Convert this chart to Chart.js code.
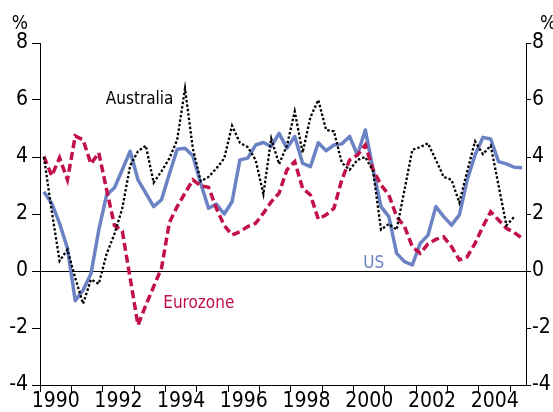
<!DOCTYPE html>
<html>
<head>
<meta charset="utf-8">
<script src="https://cdn.jsdelivr.net/npm/chart.js@4.4.1/dist/chart.umd.min.js"></script>
<style>
    html, body { margin: 0; padding: 0; background: #ffffff; }
    #wrap { width: 553px; height: 412px; }
</style>
</head>
<body>
<div id="wrap"><canvas id="chart" width="553" height="412"></canvas></div>
<script>
// Quarterly year-ended growth, 1990 Q1 to 2005 Q2
const startYear = 1990;
const quarterCount = 62;

const usValues = [
    2.78, 2.37, 1.67, 0.8, -1.04, -0.67, -0.1, 1.44, 2.67, 2.92, 3.55, 4.2,
    3.2, 2.73, 2.26, 2.5, 3.4, 4.27, 4.31, 4.04, 3.08, 2.2, 2.35, 2.0,
    2.43, 3.9, 3.96, 4.42, 4.51, 4.37, 4.83, 4.31, 4.72, 3.78, 3.66, 4.5,
    4.22, 4.42, 4.46, 4.72, 4.07, 4.95, 3.55, 2.26, 1.91, 0.62, 0.33, 0.21,
    0.97, 1.26, 2.26, 1.91, 1.61, 1.97, 3.2, 4.07, 4.69, 4.63, 3.84, 3.76, 3.64, 3.62
];

const eurozoneValues = [
    4.02, 3.34, 3.97, 3.2, 4.74, 4.6, 3.76, 4.15, 2.85, 1.6, 1.4, -0.25,
    -1.9, -1.2, -0.55, 0.1, 1.7, 2.26, 2.73, 3.2, 2.99, 2.94, 2.2, 1.6,
    1.26, 1.38, 1.56, 1.67, 2.03, 2.43, 2.73, 3.55, 3.84, 2.9, 2.67, 1.82,
    1.97, 2.2, 3.2, 3.9, 4.07, 4.42, 3.55, 3.02, 2.67, 1.91, 1.56, 0.85,
    0.62, 0.95, 1.11, 1.2, 0.85, 0.39, 0.5, 0.97, 1.56, 2.08, 1.79, 1.5, 1.35, 1.15
];

const australiaValues = [
    4.0, 2.1, 0.35, 0.75, -0.25, -1.15, -0.3, -0.45, 0.6, 1.3, 2.2, 3.7,
    4.2, 4.4, 3.1, 3.5, 3.95, 4.6, 6.4, 4.3, 3.15, 3.3, 3.6, 3.95,
    5.1, 4.5, 4.35, 3.9, 2.7, 4.65, 3.75, 4.4, 5.6, 4.15, 5.4, 6.0,
    4.95, 4.9, 3.8, 3.55, 3.9, 4.0, 3.5, 1.45, 1.65, 1.45, 2.85, 4.25,
    4.35, 4.48, 3.9, 3.3, 3.2, 2.4, 3.5, 4.55, 4.1, 4.4, 3.0, 1.6, 1.9
];

const yearTicks = [1990, 1991, 1992, 1993, 1994, 1995, 1996, 1997, 1998, 1999, 2000, 2001, 2002, 2003, 2004, 2005];
const yearLabels = ['1990', '1992', '1994', '1996', '1998', '2000', '2002', '2004'];
const yTicks = [-4, -2, 0, 2, 4, 6, 8];

// Quarter labels, e.g. '1990 Q1'
const quarters = [];
for (let i = 0; i < quarterCount; i++) {
    quarters.push((startYear + Math.floor(i / 4)) + ' Q' + (i % 4 + 1));
}

// Plot each quarter in the middle of its quarter
function quarterToX(label) {
    const parts = label.split(' Q');
    return parseInt(parts[0], 10) + (parseInt(parts[1], 10) - 0.5) / 4;
}

function toPoints(values) {
    return values.map((v, i) => ({ x: quarterToX(quarters[i]), y: v }));
}

const FONT = "'Liberation Sans Narrow', 'DejaVu Sans Condensed', sans-serif";
const BLUE = '#6b82c4';
const RED = '#c2104a';

// Text labels drawn against the data scales
const seriesLabels = [
    { text: 'Australia', x: 1992.1, y: 5.85, color: '#000000' },
    { text: 'Eurozone', x: 1993.93, y: -1.3, color: RED },
    { text: 'US', x: 2000.31, y: 0.1, color: BLUE }
];

const labelPlugin = {
    id: 'labelPlugin',
    afterDraw(chart) {
        const { ctx, scales, chartArea } = chart;
        ctx.save();
        ctx.font = '17px ' + FONT;
        ctx.textBaseline = 'alphabetic';
        ctx.textAlign = 'left';
        seriesLabels.forEach(l => {
            ctx.fillStyle = l.color;
            ctx.fillText(l.text, scales.x.getPixelForValue(l.x), scales.y.getPixelForValue(l.y));
        });

        // y tick labels on both sides
        ctx.fillStyle = '#000000';
        ctx.font = '21px ' + FONT;
        ctx.textBaseline = 'middle';
        yTicks.forEach(v => {
            const py = scales.y.getPixelForValue(v);
            ctx.textAlign = 'right';
            ctx.fillText(String(v), chartArea.left - 12, py);
            ctx.textAlign = 'left';
            ctx.fillText(String(v), chartArea.right + 6, py);
        });

        // % units above both axes
        ctx.font = '19px ' + FONT;
        ctx.textBaseline = 'alphabetic';
        ctx.textAlign = 'right';
        ctx.fillText('%', chartArea.left - 12, chartArea.top - 14);
        ctx.textAlign = 'left';
        ctx.fillText('%', chartArea.right + 14, chartArea.top - 14);
        ctx.restore();
    }
};

new Chart(document.getElementById('chart'), {
    type: 'line',
    data: {
        datasets: [{
            label: 'Australia',
            data: toPoints(australiaValues),
            borderColor: '#000000',
            borderWidth: 2.3,
            borderDash: [2.5, 2],
            pointRadius: 0,
            tension: 0
        }, {
            label: 'Eurozone',
            data: toPoints(eurozoneValues),
            borderColor: RED,
            borderWidth: 3.5,
            borderDash: [8, 4],
            pointRadius: 0,
            tension: 0
        }, {
            label: 'US',
            data: toPoints(usValues),
            borderColor: BLUE,
            borderWidth: 3.5,
            pointRadius: 0,
            tension: 0,
            borderJoinStyle: 'round'
        }]
    },
    options: {
        responsive: false,
        animation: false,
        layout: { padding: { top: 43, left: 0, right: 0, bottom: 0 } },
        plugins: {
            legend: { display: false },
            tooltip: { enabled: false }
        },
        scales: {
            x: {
                type: 'linear',
                min: 1990,
                max: 2005.5,
                afterBuildTicks: (scale) => {
                    scale.ticks = yearTicks.map(v => ({ value: v }));
                },
                afterFit: (scale) => { scale.height = 27; },
                grid: {
                    drawOnChartArea: false,
                    tickLength: 7,
                    tickColor: '#000000'
                },
                border: { display: true, color: '#000000', width: 1 },
                ticks: {
                    autoSkip: false,
                    maxRotation: 0,
                    padding: -3,
                    labelOffset: 15.7,
                    color: '#000000',
                    font: { family: FONT, size: 21 },
                    callback: (value) => yearLabels.includes(String(value)) ? String(value) : ''
                }
            },
            y: {
                position: 'left',
                min: -4,
                max: 8,
                afterBuildTicks: (scale) => {
                    scale.ticks = yTicks.map(v => ({ value: v }));
                },
                afterFit: (scale) => { scale.width = 40; },
                grid: {
                    color: (ctx) => ctx.tick && ctx.tick.value === 0 ? '#000000' : 'rgba(0,0,0,0)',
                    tickColor: '#000000',
                    tickLength: 8,
                    lineWidth: 1
                },
                border: { display: true, color: '#000000', width: 1 },
                ticks: { display: false }
            },
            y2: {
                position: 'right',
                min: -4,
                max: 8,
                afterBuildTicks: (scale) => {
                    scale.ticks = yTicks.map(v => ({ value: v }));
                },
                afterFit: (scale) => { scale.width = 27; },
                grid: {
                    drawOnChartArea: false,
                    tickColor: '#000000',
                    tickLength: 5,
                    lineWidth: 1
                },
                border: { display: true, color: '#000000', width: 1 },
                ticks: { display: false }
            }
        }
    },
    plugins: [labelPlugin]
});
</script>
</body>
</html>
